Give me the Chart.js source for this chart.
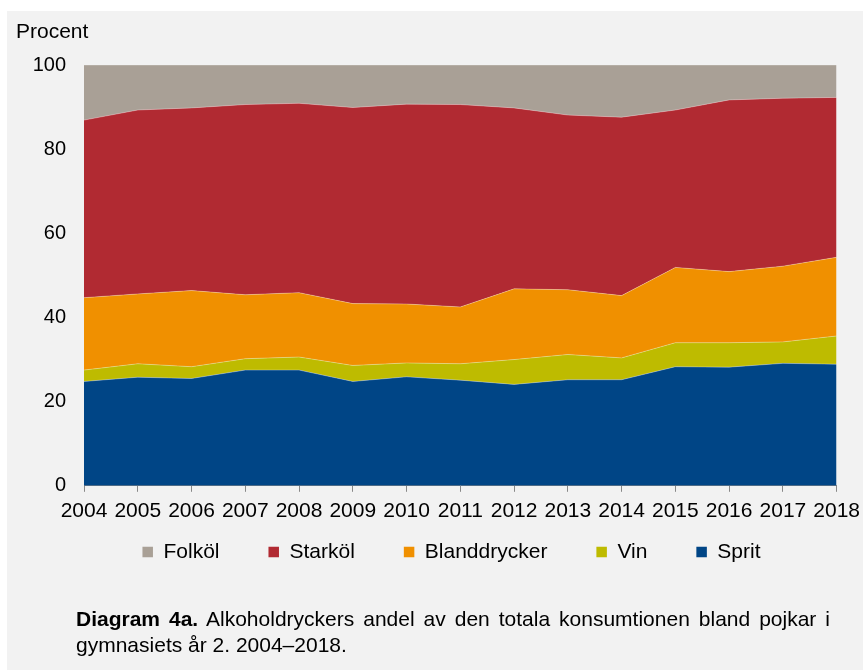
<!DOCTYPE html>
<html>
<head>
<meta charset="utf-8">
<script src="https://cdn.jsdelivr.net/npm/chart.js@4/dist/chart.umd.min.js"></script>
<style>
  html, body { margin: 0; padding: 0; background: #ffffff; }
  body { width: 863px; height: 670px; position: relative; overflow: hidden; font-family: "Liberation Sans", Arial, sans-serif; }
  #panel { position: absolute; left: 7px; top: 11px; width: 856px; height: 659px; background: #f2f2f2; }
  #chart { position: absolute; left: 0; top: 0; }
  #caption { position: absolute; left: 76px; top: 606px; width: 754px; font-size: 21px; line-height: 26px; color: #000; }
  #caption .l1 { text-align: justify; text-align-last: justify; white-space: nowrap; }
</style>
</head>
<body>
<div id="panel"></div>
<canvas id="chart" width="867" height="611"></canvas>
<div id="caption">
  <div class="l1"><b>Diagram 4a.</b> Alkoholdryckers andel av den totala konsumtionen bland pojkar i</div>
  <div>gymnasiets år 2. 2004–2018.</div>
</div>
<script>
const years = ['2004','2005','2006','2007','2008','2009','2010','2011','2012','2013','2014','2015','2016','2017','2018'];
const sprit = [24.8,25.8,25.5,27.5,27.5,24.8,25.9,25.1,24.1,25.2,25.2,28.3,28.2,29.1,28.9];
const vin   = [2.7,3.2,2.8,2.7,3.1,3.8,3.3,3.9,5.9,6.0,5.2,5.7,5.8,5.1,6.7];
const bland = [17.2,16.6,18.1,15.2,15.3,14.7,14.0,13.5,16.8,15.4,14.8,17.9,16.9,18.0,18.7];
const stark = [42.2,43.7,43.4,45.2,45.0,46.6,47.5,48.1,43.0,41.5,42.4,37.4,40.8,39.9,38.0];
const folk  = [13.1,10.7,10.2,9.4,9.1,10.1,9.3,9.4,10.2,11.9,12.4,10.7,8.3,7.9,7.7];
const yTicks = [0,20,40,60,80,100];

const seriesNames = ['Sprit','Vin','Blanddrycker','Starköl','Folköl'];
const seriesData = [sprit, vin, bland, stark, folk];
const seriesColors = ['#004586','#bebb00','#f09000','#b12a32','#a9a096'];

const datasets = seriesNames.map((name, i) => ({
  label: name,
  data: seriesData[i],
  backgroundColor: seriesColors[i],
  borderColor: 'rgba(255,255,255,0.3)',
  borderWidth: 1,
  fill: i === 0 ? 'origin' : '-1',
  pointRadius: 0,
  pointHoverRadius: 0,
  tension: 0
}));

const FONT = '"Liberation Sans", Arial, sans-serif';

// place the legend row under the axis labels, centred like the reference
const legendPlace = {
  id: 'legendPlace',
  afterLayout(chart) {
    const lg = chart.legend;
    if (!lg) return;
    const h = lg.height;
    lg.left = 43; lg.right = 860;
    lg.top = 492.5; lg.bottom = 492.5 + h;
  }
};

new Chart(document.getElementById('chart'), {
  type: 'line',
  data: { labels: years, datasets },
  plugins: [legendPlace],
  options: {
    responsive: false,
    animation: false,
    devicePixelRatio: 1,
    layout: { padding: { left: 16, right: 0, top: 0, bottom: 0 } },
    plugins: {
      tooltip: { enabled: false },
      title: {
        display: true,
        text: 'Procent',
        align: 'start',
        color: '#000',
        font: { family: FONT, size: 21, weight: 'normal', lineHeight: 1.2 },
        padding: { top: 19.4, bottom: 20.4 }
      },
      legend: {
        position: 'bottom',
        labels: {
          color: '#000',
          font: { family: FONT, size: 21 },
          boxWidth: 10.5,
          boxHeight: 10.5,
          padding: 49,
          generateLabels: (chart) => {
            const items = Chart.defaults.plugins.legend.labels.generateLabels(chart);
            items.forEach(it => { it.lineWidth = 0; it.strokeStyle = it.fillStyle; });
            return items.reverse();
          }
        }
      }
    },
    scales: {
      x: {
        offset: false,
        grid: { display: true, drawOnChartArea: false, drawTicks: true, tickLength: 6, color: '#888888', lineWidth: 1 },
        border: { display: true, color: '#888888', width: 1 },
        ticks: { color: '#000', font: { family: FONT, size: 21 }, padding: 7, maxRotation: 0, autoSkip: false }
      },
      y: {
        stacked: true,
        min: 0,
        max: 100,
        afterBuildTicks: (s) => { s.ticks = yTicks.map(v => ({ value: v })); },
        grid: { display: false, drawTicks: false },
        border: { display: false },
        ticks: { color: '#000', font: { family: FONT, size: 20 }, padding: 18 },
        afterFit: (s) => { s.width = 68; }
      }
    }
  }
});
</script>
</body>
</html>
